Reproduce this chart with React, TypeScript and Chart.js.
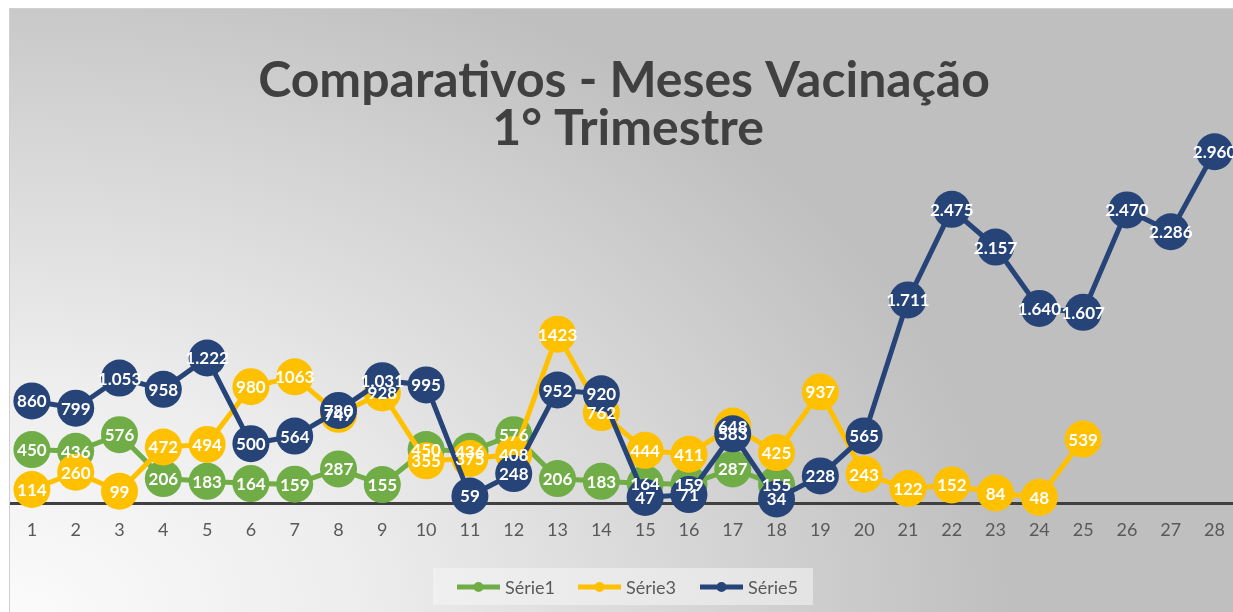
import React, { useEffect, useRef } from "react";
import { Chart, registerables } from "chart.js";

Chart.register(...registerables);

const categories = ["1", "2", "3", "4", "5", "6", "7", "8", "9", "10", "11", "12", "13", "14", "15", "16", "17", "18", "19", "20", "21", "22", "23", "24", "25", "26", "27", "28"];

const serie1 = [450, 436, 576, 206, 183, 164, 159, 287, 155, 450, 436, 576, 206, 183, 164, 159, 287, 155, null, null, null, null, null, null, null, null, null, null];
const serie3 = [114, 260, 99, 472, 494, 980, 1063, 747, 928, 355, 375, 408, 1423, 762, 444, 411, 648, 425, 937, 243, 122, 152, 84, 48, 539, null, null, null];
const serie5 = [860, 799, 1053, 958, 1222, 500, 564, 780, 1031, 995, 59, 248, 952, 920, 47, 71, 583, 34, 228, 565, 1711, 2475, 2157, 1640, 1607, 2470, 2286, 2960];

const seriesNames = ["Série1", "Série3", "Série5"];
const titleLines = ["Comparativos - Meses Vacinação", "1° Trimestre"];

const COLORS = ["#70ad47", "#ffc000", "#264478"];
const FONT = "Lato, 'Open Sans', sans-serif";

const plainFmt = (v: number) => String(v);
const thousandFmt = (v: number) => {
  const s = String(v);
  return s.replace(/\B(?=(\d{3})+(?!\d))/g, ".");
};
const formatters = [plainFmt, plainFmt, thousandFmt];

const titlePlugin = {
  id: "customTitle",
  afterDraw(chart: any) {
    const ctx = chart.ctx;
    ctx.save();
    ctx.fillStyle = "#404040";
    ctx.textAlign = "center";
    ctx.textBaseline = "middle";
    ctx.font = `bold 44px ${FONT}`;
    const w = ctx.measureText(titleLines[0]).width;
    const size = Math.max(30, Math.min(52, (44 * 732) / w));
    ctx.font = `bold ${size}px ${FONT}`;
    ctx.fillText(titleLines[0], 614, 72);
    ctx.fillText(titleLines[1], 618, 120);
    ctx.restore();
  },
};

const labelsPlugin = {
  id: "pointLabels",
  afterDatasetsDraw(chart: any) {
    const ctx = chart.ctx;
    ctx.save();
    ctx.fillStyle = "#ffffff";
    ctx.textAlign = "center";
    ctx.textBaseline = "middle";
    ctx.font = `bold 17px ${FONT}`;
    chart.data.datasets.forEach((ds: any, di: number) => {
      const meta = chart.getDatasetMeta(di);
      meta.data.forEach((el: any, i: number) => {
        const v = ds.data[i];
        if (v === null || v === undefined) return;
        ctx.fillText(formatters[di](v), el.x, el.y + 1);
      });
    });
    ctx.restore();
  },
};

const legendPlugin = {
  id: "customLegend",
  afterDraw(chart: any) {
    const ctx = chart.ctx;
    ctx.save();
    ctx.fillStyle = "rgba(245,245,245,0.55)";
    ctx.fillRect(423, 559, 380, 37);
    const starts = [447, 568, 690];
    const cy = 578;
    ctx.font = `18px ${FONT}`;
    ctx.textBaseline = "middle";
    ctx.textAlign = "left";
    seriesNames.forEach((name, i) => {
      const x0 = starts[i];
      ctx.strokeStyle = COLORS[i];
      ctx.lineWidth = 5;
      ctx.beginPath();
      ctx.moveTo(x0, cy);
      ctx.lineTo(x0 + 43, cy);
      ctx.stroke();
      ctx.fillStyle = COLORS[i];
      ctx.beginPath();
      ctx.arc(x0 + 21.5, cy, 5, 0, Math.PI * 2);
      ctx.fill();
      ctx.fillStyle = "#595959";
      ctx.fillText(name, x0 + 48, cy + 1);
    });
    ctx.restore();
  },
};

export default function App() {
  const ref = useRef<HTMLCanvasElement | null>(null);

  useEffect(() => {
    if (!ref.current) return;
    const series = [serie1, serie3, serie5];
    const chart = new Chart(ref.current, {
      type: "line",
      data: {
        labels: categories,
        datasets: series.map((d, i) => ({
          label: seriesNames[i],
          data: d,
          borderColor: COLORS[i],
          backgroundColor: COLORS[i],
          borderWidth: 5,
          pointRadius: 18.5,
          pointHoverRadius: 18.5,
          pointBackgroundColor: COLORS[i],
          pointBorderColor: COLORS[i],
          pointBorderWidth: 0,
          tension: 0,
          clip: false as any,
          order: 2 - i,
        })),
      },
      options: {
        animation: false,
        responsive: false,
        events: [],
        layout: { autoPadding: false, padding: { top: 138, left: 0, right: 0, bottom: 69 } },
        plugins: {
          legend: { display: false },
          title: { display: false },
          tooltip: { enabled: false },
        },
        scales: {
          x: {
            offset: true,
            grid: { display: false, drawTicks: false },
            border: { display: true, color: "#404040", width: 3 },
            ticks: {
              color: "#595959",
              font: { family: FONT, size: 18 },
              padding: 16,
              maxRotation: 0,
              autoSkip: false,
            },
            afterFit: (scale: any) => {
              scale.height = 40;
            },
          },
          y: {
            display: false,
            min: 0,
            max: 3000,
          },
        },
      },
      plugins: [titlePlugin, labelsPlugin, legendPlugin],
    });
    return () => chart.destroy();
  }, []);

  return (
    <div style={{ position: "fixed", left: 0, top: 0, width: "100vw", height: "100vh", overflow: "hidden", background: "#ffffff" }}>
      <div
        style={{
          position: "absolute",
          left: 9,
          top: 8,
          width: 1240,
          height: 610,
          borderLeft: "1px solid #d0d0d0",
          borderTop: "1px solid #d0d0d0",
          background:
            "radial-gradient(ellipse 1000px 700px at 0px 100%, #fbfbfb 0%, #ededed 35%, #d5d5d5 70%, #bfbfbf 100%)",
        }}
      >
        <canvas ref={ref} width={1231} height={603} style={{ display: "block" }} />
      </div>
    </div>
  );
}
